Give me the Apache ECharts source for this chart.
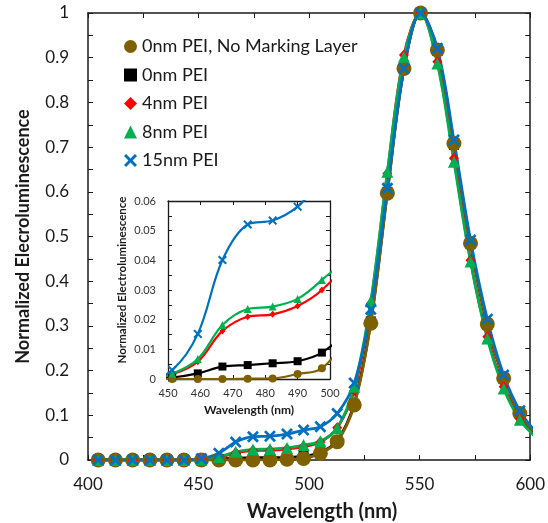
<!DOCTYPE html>
<html>
<head>
<meta charset="utf-8">
<script src="https://cdn.jsdelivr.net/npm/echarts@6/dist/echarts.min.js"></script>
<style>
  html, body { margin: 0; padding: 0; background: #fff; }
  #chart { width: 548px; height: 523px; }
</style>
</head>
<body>
<div id="chart"></div>
<script>
// Wavelengths (nm) of the measured points
const wavelength = [404.6, 412.4, 420.2, 428.0, 435.7, 443.4, 451.3, 459.2, 466.8, 474.6, 482.3, 490.0, 497.5, 505.1, 512.7, 520.4, 527.9, 535.4, 542.9, 550.4, 558.0, 565.5, 573.0, 580.6, 588.0, 595.3, 602.7];

// Normalized electroluminescence for each device
const noMarking = [0, 0, 0, 0, 0, 0, 0, 0, 0, 0.0001, 0.0002, 0.0017, 0.0036, 0.015, 0.041, 0.123, 0.306, 0.597, 0.876, 1.0, 0.917, 0.708, 0.485, 0.304, 0.183, 0.104, 0.058];
const pei0 = [0, 0, 0, 0, 0, 0, 0.0005, 0.0019, 0.0042, 0.0047, 0.0053, 0.0060, 0.0089, 0.017, 0.043, 0.126, 0.31, 0.60, 0.876, 1.0, 0.915, 0.705, 0.483, 0.302, 0.182, 0.103, 0.057];
const pei4 = [0, 0, 0, 0, 0, 0, 0.0015, 0.0058, 0.0162, 0.0210, 0.0218, 0.0246, 0.0300, 0.040, 0.072, 0.155, 0.35, 0.641, 0.906, 1.0, 0.891, 0.675, 0.447, 0.276, 0.164, 0.092, 0.052];
const pei8 = [0, 0, 0, 0, 0, 0, 0.0018, 0.0067, 0.0182, 0.0236, 0.0244, 0.0270, 0.0334, 0.042, 0.071, 0.164, 0.355, 0.645, 0.902, 1.0, 0.887, 0.667, 0.444, 0.272, 0.160, 0.090, 0.050];
const pei15 = [0, 0, 0, 0, 0, 0, 0.0030, 0.0152, 0.0401, 0.0521, 0.0534, 0.0581, 0.067, 0.0745, 0.104, 0.172, 0.337, 0.608, 0.876, 1.0, 0.921, 0.716, 0.492, 0.315, 0.19, 0.110, 0.062];

const seriesNames = ['0nm PEI, No Marking Layer', '0nm PEI', '4nm PEI', '8nm PEI', '15nm PEI'];

// Tick labels
const mainXTicks = ['400', '450', '500', '550', '600'];
const mainYTicks = ['0', '0.1', '0.2', '0.3', '0.4', '0.5', '0.6', '0.7', '0.8', '0.9', '1'];
const insetXTicks = ['450', '460', '470', '480', '490', '500'];
const insetYTicks = ['0', '0.01', '0.02', '0.03', '0.04', '0.05', '0.06'];

const CROSS = 'path://M1.6,0 L5,3.4 L8.4,0 L10,1.6 L6.6,5 L10,8.4 L8.4,10 L5,6.6 L1.6,10 L0,8.4 L3.4,5 L0,1.6 Z';

const styleDefs = {
  '0nm PEI, No Marking Layer': { color: '#7F6000', symbol: 'circle', main: 15, inset: 8, legend: 'circle' },
  '0nm PEI': { color: '#000000', symbol: 'rect', main: 10, inset: 8, legend: 'rect' },
  '4nm PEI': { color: '#FF0000', symbol: 'diamond', main: [10, 11], inset: [6, 7], legend: 'diamond' },
  '8nm PEI': { color: '#00B050', symbol: 'triangle', main: 12, inset: 8, legend: 'triangle' },
  '15nm PEI': { color: '#0070C0', symbol: CROSS, main: 12, inset: 9, legend: CROSS }
};
const valuesByName = {
  '0nm PEI, No Marking Layer': noMarking,
  '0nm PEI': pei0,
  '4nm PEI': pei4,
  '8nm PEI': pei8,
  '15nm PEI': pei15
};
// drawing order (bottom to top)
const drawOrder = ['0nm PEI', '0nm PEI, No Marking Layer', '4nm PEI', '8nm PEI', '15nm PEI'];

const FONT = 'Lato, "Open Sans", sans-serif';
const AX = '#1a1a1a';

function mkSeries(name, inset) {
  const s = styleDefs[name];
  const vals = valuesByName[name];
  return {
    name: name,
    type: 'line',
    xAxisIndex: inset ? 2 : 0,
    yAxisIndex: inset ? 2 : 0,
    data: wavelength.map((w, i) => [w, vals[i]]),
    smooth: 0.35,
    clip: true,
    symbol: s.symbol,
    symbolSize: inset ? s.inset : s.main,
    showAllSymbol: true,
    lineStyle: { color: s.color, width: inset ? 2.2 : 2.8 },
    itemStyle: { color: s.color },
    emphasis: { disabled: true },
    animation: false
  };
}

function mirrorAxis(gridIndex, pos, min, max, interval, len, lw, minor) {
  return {
    type: 'value', gridIndex: gridIndex, position: pos, min: min, max: max, interval: interval,
    axisLine: { show: true, onZero: false, lineStyle: { color: AX, width: lw } },
    axisTick: { show: true, inside: true, length: len, lineStyle: { color: AX, width: 1 } },
    minorTick: { show: minor, splitNumber: 2, length: len, lineStyle: { color: AX, width: 1 } },
    axisLabel: { show: false },
    splitLine: { show: false }
  };
}

const series = [];
drawOrder.forEach(n => series.push(mkSeries(n, false)));
drawOrder.forEach(n => series.push(mkSeries(n, true)));

const option = {
  backgroundColor: '#ffffff',
  animation: false,
  textStyle: { fontFamily: FONT },
  grid: [
    { left: 88, right: 15, top: 13, bottom: 63, show: false },
    { left: 168, right: 218, top: 201, bottom: 144, show: true, backgroundColor: '#ffffff', borderWidth: 0 }
  ],
  graphic: [
    {
      type: 'text', x: 322, y: 512, silent: true,
      style: { text: 'Wavelength (nm)', fontFamily: FONT, fontSize: 20, fontWeight: 'bold', fill: '#1a1a1a',
        textAlign: 'center', textVerticalAlign: 'middle' }
    }
  ],
  legend: {
    orient: 'vertical',
    left: 119,
    top: 32,
    itemWidth: 13,
    itemHeight: 13,
    itemGap: 9.5,
    selectedMode: false,
    textStyle: { fontFamily: FONT, fontSize: 18, color: '#1a1a1a', lineHeight: 19 },
    data: seriesNames.map(n => ({ name: n, icon: styleDefs[n].legend, itemStyle: { color: styleDefs[n].color } }))
  },
  xAxis: [
    {
      type: 'value', gridIndex: 0, position: 'bottom', min: 400, max: 600, interval: 50,
      axisLine: { show: true, onZero: false, lineStyle: { color: AX, width: 1.5 } },
      axisTick: { show: true, inside: true, length: 5, lineStyle: { color: AX, width: 1 } },
      minorTick: { show: true, splitNumber: 2, length: 5, lineStyle: { color: AX, width: 1 } },
      axisLabel: { fontFamily: FONT, fontSize: 17, color: '#1a1a1a', margin: 16,
        formatter: v => mainXTicks[Math.round((v - 400) / 50)] },
      splitLine: { show: false }
    },
    mirrorAxis(0, 'top', 400, 600, 50, 5, 1.5, true),
    {
      type: 'value', gridIndex: 1, position: 'bottom', min: 450, max: 500, interval: 10,
      name: 'Wavelength (nm)', nameLocation: 'middle', nameGap: 25,
      nameTextStyle: { fontFamily: FONT, fontSize: 12, fontWeight: 'bold', color: '#1a1a1a' },
      axisLine: { show: true, onZero: false, lineStyle: { color: AX, width: 1.3 } },
      axisTick: { show: true, inside: true, length: 4, lineStyle: { color: AX, width: 1 } },
      minorTick: { show: false },
      axisLabel: { fontFamily: FONT, fontSize: 11, color: '#333333', margin: 9,
        formatter: v => insetXTicks[Math.round((v - 450) / 10)] },
      splitLine: { show: false }
    },
    mirrorAxis(1, 'top', 450, 500, 10, 4, 1.3, false)
  ],
  yAxis: [
    {
      type: 'value', gridIndex: 0, position: 'left', min: 0, max: 1, interval: 0.1,
      name: 'Normalized Elecroluminescence', nameLocation: 'middle', nameGap: 56,
      nameTextStyle: { fontFamily: FONT, fontSize: 18, fontWeight: 'bold', color: '#1a1a1a' },
      axisLine: { show: true, onZero: false, lineStyle: { color: AX, width: 1.5 } },
      axisTick: { show: true, inside: true, length: 5, lineStyle: { color: AX, width: 1 } },
      minorTick: { show: true, splitNumber: 2, length: 5, lineStyle: { color: AX, width: 1 } },
      axisLabel: { fontFamily: FONT, fontSize: 17, color: '#1a1a1a', margin: 19,
        formatter: v => mainYTicks[Math.round(v * 10)] },
      splitLine: { show: false }
    },
    mirrorAxis(0, 'right', 0, 1, 0.1, 5, 1.5, true),
    {
      type: 'value', gridIndex: 1, position: 'left', min: 0, max: 0.06, interval: 0.01,
      name: 'Normalized Electroluminescence', nameLocation: 'middle', nameGap: 40,
      nameTextStyle: { fontFamily: FONT, fontSize: 11.5, fontWeight: 'bold', color: '#1a1a1a', padding: [0, 0, 0, 20] },
      axisLine: { show: true, onZero: false, lineStyle: { color: AX, width: 1.3 } },
      axisTick: { show: true, inside: true, length: 4, lineStyle: { color: AX, width: 1 } },
      minorTick: { show: true, splitNumber: 2, length: 4, lineStyle: { color: AX, width: 1 } },
      axisLabel: { fontFamily: FONT, fontSize: 11, color: '#333333', margin: 12,
        formatter: v => insetYTicks[Math.round(v * 100)] },
      splitLine: { show: false }
    },
    mirrorAxis(1, 'right', 0, 0.06, 0.01, 4, 1.3, true)
  ],
  series: series
};

const chart = echarts.init(document.getElementById('chart'), null, { renderer: 'canvas' });
chart.setOption(option);
</script>
</body>
</html>
